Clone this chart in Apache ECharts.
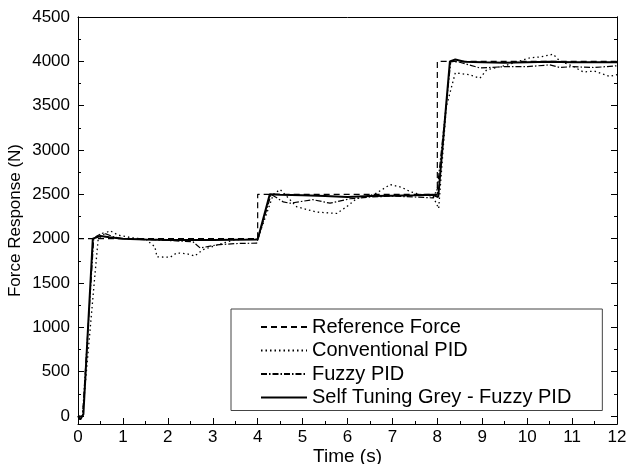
<!DOCTYPE html>
<html>
<head>
<meta charset="utf-8">
<script src="https://cdn.jsdelivr.net/npm/echarts@6/dist/echarts.min.js"></script>
<style>
  html, body { margin: 0; padding: 0; background: #fff; }
  #chart { width: 626px; height: 464px; }
</style>
</head>
<body>
<div id="chart"></div>
<script>
// axis ticks
const yMajor = [0, 500, 1000, 1500, 2000, 2500, 3000, 3500, 4000, 4500]
const yMinor = [250, 750, 1250, 1750, 2250, 2750, 3250, 3750, 4250]

// reference force (step input)
const tRef = [0, 4, 4, 8, 8, 12]
const refForce = [2000, 2000, 2500, 2500, 4000, 4000]

// conventional PID
const tConv = [0, 0.1, 0.38, 0.45, 0.6, 0.71, 0.9, 1.2, 1.5, 1.71, 1.76, 2.05, 2.2, 2.42, 2.6, 2.78, 3.1, 3.5, 4.0,
  4.35, 4.5, 4.87, 5.31, 5.76, 5.98, 6.2, 6.6, 6.95, 7.2, 7.4, 7.6, 7.9, 8.03,
  8.2, 8.4, 8.7, 8.95, 9.1, 9.5, 10.06, 10.3, 10.58, 10.73, 11.0, 11.25, 11.5, 11.84, 12]
const conventional = [0, 0, 1610, 2000, 2060, 2090, 2040, 2010, 1995, 1910, 1795, 1790, 1840, 1830, 1805, 1875, 1930, 1990, 1995,
  2500, 2555, 2360, 2300, 2285, 2360, 2450, 2500, 2610, 2580, 2530, 2500, 2480, 2340,
  3490, 3870, 3850, 3810, 3905, 3950, 4040, 4050, 4080, 4000, 3950, 3880, 3890, 3830, 3850]

// fuzzy PID
const tFuzzy = [0, 0.1, 0.35, 0.42, 0.56, 0.8, 1.0, 1.5, 2.0, 2.56, 2.72, 3.09, 3.5, 3.98,
  4.3, 4.57, 4.72, 5.23, 5.61, 6.05, 6.5, 7.0, 7.5, 7.9, 8.0,
  8.3, 8.5, 8.95, 9.5, 10.0, 10.5, 10.73, 11.0, 11.5, 12]
const fuzzyPid = [0, 0, 2000, 2030, 2065, 2020, 2000, 1990, 1980, 1965, 1895, 1930, 1945, 1950,
  2500, 2415, 2400, 2440, 2400, 2450, 2470, 2480, 2470, 2460, 2560,
  4000, 3990, 3925, 3940, 3940, 3960, 3930, 3940, 3930, 3950]

// self tuning grey - fuzzy PID
const tSelf = [0, 0.05, 0.12, 0.33, 0.5, 0.7, 1.0, 1.5, 2.0, 2.5, 3.0, 3.5, 4.0,
  4.27, 4.5, 5.0, 5.5, 6.0, 6.5, 7.0, 7.5, 7.9, 8.02,
  8.28, 8.4, 8.6, 9.0, 9.5, 10.0, 10.5, 11.0, 11.5, 12]
const selfTuning = [0, -40, 20, 2000, 2030, 2015, 2000, 1990, 1985, 1985, 1985, 1988, 1990,
  2500, 2495, 2490, 2480, 2470, 2480, 2485, 2490, 2495, 2470,
  4000, 4020, 3995, 3990, 3985, 3990, 3995, 3990, 3990, 3990]

const legendNames = ['Reference Force', 'Conventional PID', 'Fuzzy PID', 'Self Tuning Grey - Fuzzy PID']

const FONT = 'Liberation Sans'
const Y_MIN = -90
const Y_MAX = 4500

function pairs(xs, ys) {
  return xs.map((x, i) => [x, ys[i]])
}

// y axis helper, used for left/right and major/minor ticks
function yAxisOf(position, ticks, len, withLabel) {
  return {
    type: 'value',
    position: position,
    min: Y_MIN,
    max: Y_MAX,
    axisLine: { show: true, lineStyle: { color: '#000', width: 1 } },
    axisTick: { show: true, inside: true, length: len, customValues: ticks, lineStyle: { color: '#000' } },
    axisLabel: withLabel
      ? { show: true, customValues: ticks, color: '#000', fontFamily: FONT, fontSize: 17, margin: 8,
          formatter: v => String(v) }
      : { show: false },
    splitLine: { show: false }
  }
}

const chart = echarts.init(document.getElementById('chart'), null, { renderer: 'canvas' })

const lineBase = { type: 'line', showSymbol: false, symbol: 'none', animation: false, xAxisIndex: 0, yAxisIndex: 0 }

chart.setOption({
  backgroundColor: '#fff',
  animation: false,
  grid: { left: 78, right: 9, top: 17, bottom: 40, containLabel: false, outerBoundsMode: 'none' },
  legend: {
    orient: 'vertical',
    left: 231,
    top: 309,
    padding: [8, 31, 3, 29],
    itemGap: 3.5,
    itemWidth: 46,
    itemHeight: 14,
    borderColor: '#444',
    borderWidth: 1,
    itemStyle: { opacity: 0 },
    textStyle: { color: '#000', fontFamily: FONT, fontSize: 20 },
    data: legendNames
  },
  xAxis: [
    {
      type: 'value',
      position: 'bottom',
      min: 0,
      max: 12,
      interval: 1,
      name: 'Time (s)',
      nameLocation: 'middle',
      nameGap: 23,
      nameMoveOverlap: false,
      nameTextStyle: { color: '#000', fontFamily: FONT, fontSize: 19 },
      axisLine: { show: true, onZero: false, lineStyle: { color: '#000', width: 1 } },
      axisTick: { show: true, inside: true, length: 6, lineStyle: { color: '#000' } },
      minorTick: { show: true, splitNumber: 2, length: 3, lineStyle: { color: '#000' } },
      axisLabel: { color: '#000', fontFamily: FONT, fontSize: 17, margin: 5 },
      splitLine: { show: false }
    },
    {
      type: 'value',
      position: 'top',
      min: 0,
      max: 12,
      axisLine: { show: true, onZero: false, lineStyle: { color: '#000', width: 1 } },
      axisTick: { show: false },
      axisLabel: { show: false },
      splitLine: { show: false }
    }
  ],
  yAxis: [
    Object.assign(yAxisOf('left', yMajor, 6, true), {
      name: 'Force Response (N)',
      nameLocation: 'middle',
      nameGap: 54,
      nameMoveOverlap: false,
      nameTextStyle: { color: '#000', fontFamily: FONT, fontSize: 17 }
    }),
    yAxisOf('left', yMinor, 3, false),
    yAxisOf('right', yMajor, 6, false),
    yAxisOf('right', yMinor, 3, false)
  ],
  series: [
    Object.assign({}, lineBase, {
      name: legendNames[0],
      data: pairs(tRef, refForce),
      lineStyle: { color: '#000', width: 1.2, type: [6, 4] },
      itemStyle: { color: '#000' }
    }),
    Object.assign({}, lineBase, {
      name: legendNames[1],
      data: pairs(tConv, conventional),
      lineStyle: { color: '#000', width: 1.3, type: [1.5, 3] },
      itemStyle: { color: '#000' }
    }),
    Object.assign({}, lineBase, {
      name: legendNames[2],
      data: pairs(tFuzzy, fuzzyPid),
      lineStyle: { color: '#000', width: 1.2, type: [6, 2, 1.5, 2] },
      itemStyle: { color: '#000' }
    }),
    Object.assign({}, lineBase, {
      name: legendNames[3],
      data: pairs(tSelf, selfTuning),
      lineStyle: { color: '#000', width: 2 },
      itemStyle: { color: '#000' }
    })
  ]
})
</script>
</body>
</html>
